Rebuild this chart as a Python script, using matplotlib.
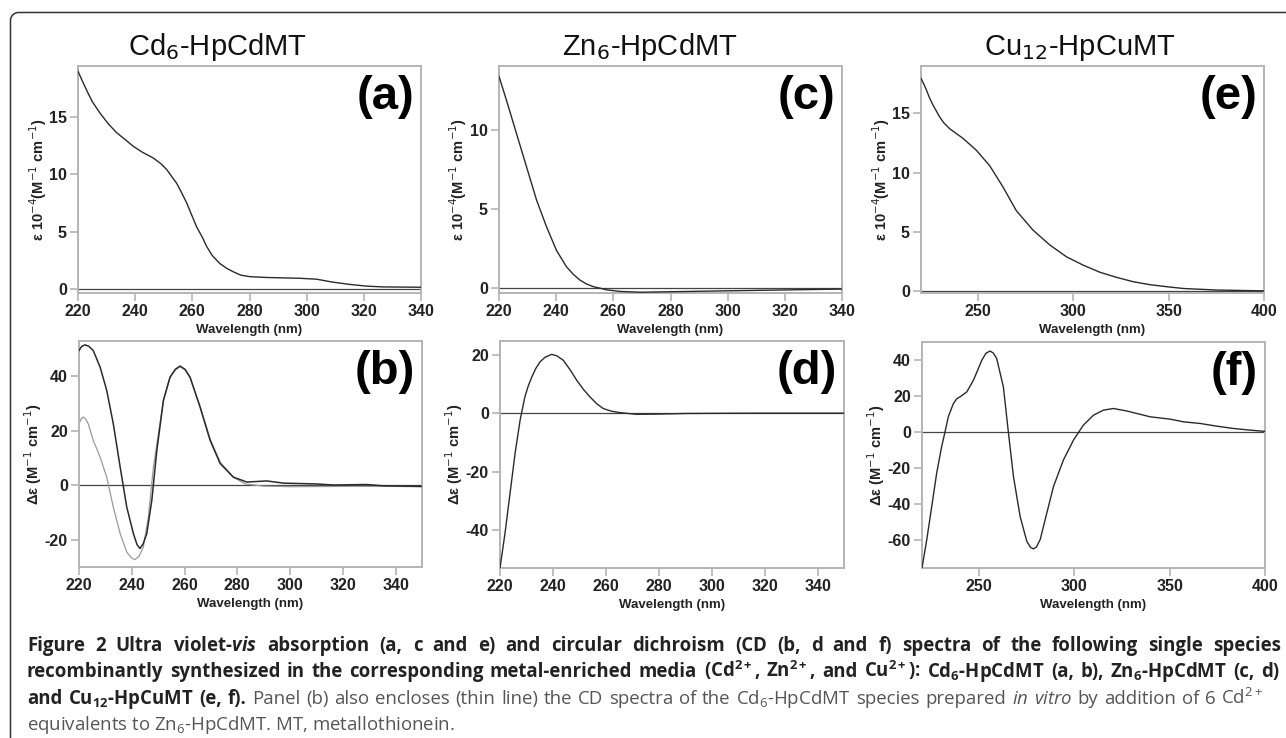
import numpy as np
import matplotlib
matplotlib.use('Agg')
import matplotlib.pyplot as plt
from matplotlib.lines import Line2D

# =================================================================
# 1. 数据
# =================================================================
# (a) Cd6-HpCdMT UV-vis
wl_a = [220, 221.5, 223, 225, 227.7, 230.5, 233.5, 236.5, 239.4, 242.5, 246.3, 249, 251, 254.5,
        256, 258, 261.5, 263.5, 265, 267, 269.7, 272, 274.3, 277, 280.2, 286,
        297.7, 303.5, 309, 315, 320.8, 326.7, 340]
abs_a = [18.95, 18.1, 17.3, 16.3, 15.3, 14.4, 13.6, 13.0, 12.4, 11.9, 11.4, 10.9, 10.4, 9.2,
         8.5, 7.5, 5.4, 4.5, 3.7, 2.9, 2.2, 1.8, 1.5, 1.2, 1.07, 1.0,
         0.93, 0.85, 0.6, 0.4, 0.25, 0.18, 0.15]

# (b) Cd6-HpCdMT CD, 粗线 (重组) 与细线 (体外)
wl_b = [220, 221, 222.3, 223.8, 225.4, 228, 230.5, 233, 235.6, 238.1, 240.6, 242, 243.1, 244.3,
        245.7, 247.6, 249.5, 252, 254.5, 256.5, 258.3, 260.2, 262.1, 265.9, 269.7, 273.5, 278.5,
        283.6, 291.2, 297.5, 310, 316.6, 329, 335.4, 350]
cd_b = [49.5, 51.0, 51.6, 51.0, 49.5, 43.4, 34.9, 22.6, 6.7, -8, -17.7, -21.8, -23.2, -21.5,
        -17.7, -5.5, 12.8, 31.2, 39.7, 42.6, 43.8, 42.6, 39.7, 28.7, 16.5, 8.0, 3.0,
        1.2, 1.6, 0.8, 0.5, 0.1, 0.3, -0.2, -0.4]
wl_b2 = [220, 220.8, 221.6, 222.5, 223.5, 225.4, 228, 230.5, 233, 235.6, 238.1, 239.8, 241.2,
         242.8, 244.4, 246.3, 248.2, 252, 254.5, 256.5, 258.3, 260.2, 262.1, 265.9, 269.7,
         273.5, 278.5, 283, 290, 300, 320, 340, 350]
cd_b2 = [22.6, 24.4, 25.1, 24.4, 22.6, 16.5, 10.4, 3.0, -8, -17.7, -24.5, -26.6, -27.3,
         -26.0, -22.6, -11.6, 6.7, 31.2, 39.7, 42.4, 43.6, 42.4, 39.5, 28.9, 17.0,
         8.5, 3.0, 0.5, -0.3, -0.5, -0.4, -0.4, -0.5]

# (c) Zn6-HpCdMT UV-vis
wl_c = [220, 222.6, 226.1, 229.6, 233.1, 236.6, 240.1, 243.6, 246, 248.3, 250.5, 253, 255.5,
        257.6, 262.3, 269.3, 279.8, 297.4, 315, 340]
abs_c = [13.4, 11.9, 9.8, 7.7, 5.6, 3.9, 2.4, 1.36, 0.88, 0.52, 0.28, 0.1, 0.0,
         -0.1, -0.2, -0.25, -0.22, -0.17, -0.12, -0.05]

# (d) Zn6-HpCdMT CD
wl_d = [220, 221.9, 223.8, 225.7, 227.6, 229.4, 230.7, 232, 233.5, 235.1, 237, 239.5, 241.5,
        243.9, 246.5, 249, 251.5, 254, 256.5, 259, 262, 265.3, 271.6, 280.4, 290.5, 315.7, 350]
cd_d = [-53.1, -41.1, -27.4, -13.7, -2.3, 5.7, 9.5, 12.5, 15.4, 17.7, 19.3, 20.3, 19.8,
        18.3, 15.0, 11.4, 8.3, 5.7, 3.4, 1.7, 0.8, 0.3, -0.3, -0.2, 0.0, 0.1, 0.1]

# (e) Cu12-HpCuMT UV-vis
wl_e = [220, 221.4, 222.8, 224.5, 226.3, 229.8, 232, 235.1, 242, 249, 256, 263, 270, 278.8,
        287.6, 296.4, 305.1, 313.9, 322.6, 331.4, 340.2, 349, 357.7, 375.2, 400]
abs_e = [17.96, 17.5, 17.0, 16.3, 15.7, 14.7, 14.2, 13.7, 12.9, 11.9, 10.6, 8.8, 6.8, 5.15,
         3.9, 2.9, 2.2, 1.6, 1.17, 0.8, 0.55, 0.38, 0.23, 0.1, 0.03]

# (f) Cu12-HpCuMT CD
wl_f = [220, 222.5, 225.1, 227.7, 230.3, 232.1, 233.8, 236.4, 238.3, 240, 243.5, 247, 251.4,
        253.5, 255.7, 257.5, 259.2, 262.7, 265.3, 268, 271.5, 275, 277, 278.5, 280, 282, 285.5,
        289, 294.2, 299.5, 304.7, 310, 315.2, 320.5, 327.5, 339.7, 350.2, 357.2, 366, 374.7,
        383.5, 392.2, 400]
cd_f = [-75.6, -59.9, -41.5, -23, -8.3, 0, 8.3, 15.5, 18.4, 19.4, 22.1, 28.6, 39.7,
        43.5, 44.8, 43.6, 40.6, 24.9, 0, -24.9, -47, -60.8, -64.2, -65, -64.0, -59.9, -45.1,
        -30.4, -15.7, -4.6, 3.7, 9.2, 12, 12.9, 11.5, 8.3, 7, 5.5, 4.6, 3.1,
        1.8, 0.9, 0.2]

titles = ['Cd$_6$-HpCdMT', 'Zn$_6$-HpCdMT', 'Cu$_{12}$-HpCuMT']
letters = ['(a)', '(b)', '(c)', '(d)', '(e)', '(f)']
uv_label = r'ε 10$^{-4}$(M$^{-1}$ cm$^{-1}$)'
cd_label = r'Δε (M$^{-1}$ cm$^{-1}$)'

# =================================================================
# 2. 画布与字体
# =================================================================
plt.rcParams['mathtext.fontset'] = 'custom'
plt.rcParams['mathtext.rm'] = 'Open Sans'
plt.rcParams['mathtext.it'] = 'Open Sans:italic'
plt.rcParams['mathtext.bf'] = 'Open Sans:bold'
plt.rcParams['mathtext.bfit'] = 'Open Sans:italic:bold'
plt.rcParams['axes.unicode_minus'] = False

W, H = 1286, 738
fig = plt.figure(figsize=(W / 100, H / 100), dpi=100)

tick_font = ['Liberation Sans Narrow', 'Liberation Sans', 'DejaVu Sans']
lab_font = ['Liberation Sans', 'DejaVu Sans']
frame_c = '#b4b4b4'
curve_c = '#2a2a2a'


def add_ax(l, t, r, b):
    return fig.add_axes([l / W, 1 - b / H, (r - l) / W, (b - t) / H])


def style(ax, xlim, ylim, xticks, yticks, ylabel, letter, lab_dx):
    ax.set_xlim(*xlim)
    ax.set_ylim(*ylim)
    ax.set_xticks(xticks)
    ax.set_yticks(yticks)
    for s in ax.spines.values():
        s.set_color(frame_c)
        s.set_linewidth(1.4)
    ax.tick_params(direction='out', length=6, width=1.2, color=frame_c, pad=2,
                   labelcolor='#222222')
    for lab in ax.get_xticklabels() + ax.get_yticklabels():
        lab.set_family(tick_font)
        lab.set_fontweight('bold')
        lab.set_fontsize(11.5)
    ax.axhline(0, color='#444444', lw=0.9, zorder=1)
    bb = ax.get_position()
    hpx = bb.height * H
    wpx = bb.width * W
    ax.set_xlabel('Wavelength (nm)', family=lab_font, fontweight='bold', fontsize=9.5,
                  color='#222222')
    ax.xaxis.set_label_coords(0.5, -31 / hpx)
    ax.set_ylabel(ylabel, family=lab_font, fontweight='bold', fontsize=10.5, color='#222222',
                  math_fontfamily='dejavusans')
    ax.yaxis.set_label_coords(lab_dx / wpx, 0.5)
    ax.text(1 - 7 / wpx, 1 - 31 / hpx, letter, transform=ax.transAxes, ha='right',
            va='center', family=lab_font, fontweight='bold', fontsize=34)


ax_a = add_ax(78, 66, 421, 293)
ax_b = add_ax(79, 341, 422, 567)
ax_c = add_ax(499, 66, 842, 293)
ax_d = add_ax(500, 341, 844, 568)
ax_e = add_ax(921, 66, 1264, 293)
ax_f = add_ax(922, 342, 1265, 568)

ax_a.plot(wl_a, abs_a, color=curve_c, lw=1.0, zorder=3)
ax_b.plot(wl_b2, cd_b2, color='#9a9a9a', lw=0.9, zorder=2)
ax_b.plot(wl_b, cd_b, color=curve_c, lw=1.1, zorder=3)
ax_c.plot(wl_c, abs_c, color=curve_c, lw=1.0, zorder=3)
ax_d.plot(wl_d, cd_d, color=curve_c, lw=1.0, zorder=3)
ax_e.plot(wl_e, abs_e, color=curve_c, lw=1.0, zorder=3)
ax_f.plot(wl_f, cd_f, color=curve_c, lw=1.0, zorder=3)

style(ax_a, (220, 340), (-0.35, 19.4), range(220, 341, 20), [0, 5, 10, 15], uv_label, letters[0], -29)
style(ax_b, (220, 350), (-30, 53), range(220, 341, 20), [-20, 0, 20, 40], cd_label, letters[1], -35)
style(ax_c, (220, 340), (-0.3, 14.06), range(220, 341, 20), [0, 5, 10], uv_label, letters[2], -30)
style(ax_d, (220, 350), (-53.1, 24.9), range(220, 341, 20), [-40, -20, 0, 20], cd_label, letters[3], -35)
style(ax_e, (220, 400), (-0.15, 19.0), [250, 300, 350, 400], [0, 5, 10, 15], uv_label, letters[4], -29)
style(ax_f, (220, 400), (-75.6, 49.8), [250, 300, 350, 400], [-60, -40, -20, 0, 20, 40], cd_label, letters[5], -35)

# 列标题
for x, t in zip([217, 650, 1080], titles):
    fig.text(x / W, 1 - 55 / H, t, ha='center', va='baseline', family=lab_font,
             fontsize=21, color='#111111', math_fontfamily='dejavusans')

# 左上角圆角边框 (只有上边和左边)
r, fx, fy = 8, 10.5, 12.5
theta = np.linspace(np.pi, 1.5 * np.pi, 20)
px = np.concatenate([[fx], fx + r + r * np.cos(theta), [W + 5]])
py = np.concatenate([[H + 5], fy + r + r * np.sin(theta), [fy]])
fig.add_artist(Line2D(px / W, 1 - py / H, transform=fig.transFigure, color='#333333', lw=1.1))

# =================================================================
# 3. 图注 (两端对齐)
# =================================================================
cap_font = ['Open Sans', 'DejaVu Sans']
cap_size = 13.4
renderer = fig.canvas.get_renderer()
B, R = ('bold', '#222222'), ('normal', '#555555')

line1 = [(w, B) for w in (r'Figure 2 Ultra violet-$\mathbfit{vis}$ absorption (a, c and e) and circular '
                          r'dichroism (CD (b, d and f) spectra of the following single species').split(' ')]
line2 = [(w, B) for w in (r'recombinantly synthesized in the corresponding metal-enriched media '
                          r'(Cd$^{\mathbf{2+}}$, Zn$^{\mathbf{2+}}$, and Cu$^{\mathbf{2+}}$): '
                          r'Cd$_{\mathbf{6}}$-HpCdMT (a, b), Zn$_{\mathbf{6}}$-HpCdMT (c, d)').split(' ')]
line3 = ([(w, B) for w in r'and Cu$_{\mathbf{12}}$-HpCuMT (e, f).'.split(' ')] +
         [(w, R) for w in (r'Panel (b) also encloses (thin line) the CD spectra of the Cd$_6$-HpCdMT '
                           r'species prepared $\mathit{in}$ $\mathit{vitro}$ by addition of 6 Cd$^{2+}$').split(' ')])
line4 = r'equivalents to Zn$_6$-HpCdMT. MT, metallothionein.'


def put_words(words, y_px, x_left, x_right):
    texts = []
    for w, (wt, col) in words:
        texts.append(fig.text(0, 1 - y_px / H, w, family=cap_font, fontweight=wt, fontsize=cap_size,
                              color=col, va='baseline'))
    widths = [t.get_window_extent(renderer).width for t in texts]
    gap = (x_right - x_left - sum(widths)) / (len(texts) - 1)
    x = x_left
    for t, wd in zip(texts, widths):
        t.set_x(x / W)
        x += wd + gap


put_words(line1, 651, 27, 1281)
put_words(line2, 677, 27, 1279)
put_words(line3, 704, 27, 1263)
fig.text(27 / W, 1 - 730 / H, line4, family=cap_font, fontsize=cap_size, color='#555555',
         va='baseline')

fig.savefig('out.png', dpi=100)
